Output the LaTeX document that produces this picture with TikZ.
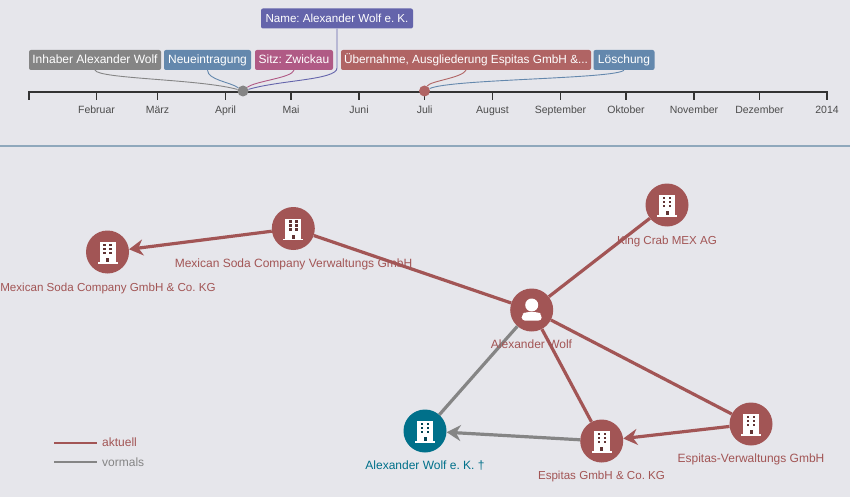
\documentclass[tikz,border=0pt]{standalone}
\usepackage{fontspec}
\setmainfont{Liberation Sans}
\usepackage{xcolor}
\usetikzlibrary{arrows.meta}
\frenchspacing
\definecolor{bg}{HTML}{E6E6EB}
\definecolor{red}{HTML}{A25555}
\definecolor{grey}{HTML}{858585}
\definecolor{teal}{HTML}{00708A}
\definecolor{blue}{HTML}{6488AD}
\definecolor{purple}{HTML}{6464AB}
\definecolor{pink}{HTML}{B05A85}
\definecolor{boxred}{HTML}{B06464}
\definecolor{sep}{HTML}{8FA8BC}
\tikzstyle{tag}=[rectangle,rounded corners=2pt,text=white,font=\fontsize{12}{14}\selectfont,inner sep=0pt,minimum height=20pt,text height=10pt,text depth=2pt]
\tikzstyle{link}=[line width=0.9pt]
\tikzstyle{tick}=[line width=1.1pt,black!80]
\tikzstyle{month}=[font=\fontsize{10.5}{12}\selectfont,text=black!70,text height=8.5pt,text depth=2pt]
\tikzstyle{ent}=[circle,fill=red,minimum size=43pt,inner sep=0pt]
\tikzstyle{lbl}=[font=\fontsize{12}{14}\selectfont,text=red,text height=10pt,text depth=2pt]
\tikzstyle{rel}=[line width=3.2pt,red]
\tikzstyle{old}=[line width=3.2pt,grey]
\tikzstyle{tip}=[-{Stealth[length=14pt,width=16pt]}]
\tikzstyle{bullet}=[circle,minimum size=11pt,inner sep=0pt]
\newcommand{\building}[3]{
  \fill[white] (#1-8,#2-10) rectangle (#1+8,#2+10);
  \fill[white] (#1-10,#2+10) rectangle (#1+10,#2+11.5);
  \foreach \dx in {-3,3}
    \foreach \dy in {-7,-3,1}
      \fill[#3!60!black] (#1+\dx-1.2,#2+\dy-1.2) rectangle (#1+\dx+1.2,#2+\dy+1.2);
  \fill[#3!60!black] (#1-1.5,#2+6) rectangle (#1+1.5,#2+10);
}
\begin{document}
\begin{tikzpicture}[x=1pt,y=-1pt]
  \fill[bg] (0,0) rectangle (850,497);
  \useasboundingbox (0,0) rectangle (850,497);
  % timeline
  \draw [tick] (29,100) -- (29,92) -- (827,92) -- (827,100);
  \foreach \x/\m in {96.5/Februar,157.5/März,225.5/April,291/Mai,359/Juni,424.7/Juli,492.5/August,560.5/September,626/Oktober,694/November,759.5/Dezember,827/2014}{
    \draw [tick] (\x,92) -- (\x,100);
    \node [month] at (\x,110.5) {\m};
  }
  \draw [line width=1.2pt,sep] (0,146) -- (850,146);
  \node (d1) [bullet,fill=grey] at (243,91) {};
  \node (d2) [bullet,fill=boxred] at (424.5,91) {};
  \node (t1) [tag,fill=grey,minimum width=132pt] at (95,60) {Inhaber Alexander Wolf};
  \node (t2) [tag,fill=blue,minimum width=87pt] at (207.5,60) {Neueintragung};
  \node (t3) [tag,fill=pink,minimum width=78pt] at (294,60) {Sitz: Zwickau};
  \node (t4) [tag,fill=boxred,minimum width=250pt,font=\fontsize{11.8}{14}\selectfont] at (466,60) {Übernahme, Ausgliederung Espitas GmbH \&...};
  \node (t5) [tag,fill=blue,minimum width=61pt] at (624,60) {Löschung};
  \node (t6) [tag,fill=purple,minimum width=152pt,font=\fontsize{11.6}{14}\selectfont] at (337,18.5) {Name: Alexander Wolf e. K.};
  \draw [link,grey] (t1.south) .. controls (99,79) and (200,79) .. (d1);
  \draw [link,blue] (t2.south) .. controls (208,80) and (230,82) .. (d1);
  \draw [link,pink] (t3.south) .. controls (292,78) and (255,81) .. (d1);
  \draw [link,purple] (t6.south) -- (337,68) .. controls (337,80) and (280,80) .. (d1);
  \draw [link,boxred] (t4.south) .. controls (462,78) and (430,81) .. (d2);
  \draw [link,blue] (t5.south) .. controls (615,79) and (450,79) .. (d2);
  % network
  \node (soda) [ent] at (107.5,252) {};
  \node (verw) [ent] at (293.3,228.5) {};
  \node (wolf) [ent] at (531.7,310) {};
  \node (king) [ent] at (667,205) {};
  \node (ek) [ent,fill=teal] at (425,431) {};
  \node (esp) [ent] at (601.7,441) {};
  \node (espv) [ent] at (751,424) {};
  \draw [rel,tip] (verw) -- (soda);
  \draw [rel] (verw) -- (wolf);
  \draw [rel] (king) -- (wolf);
  \draw [rel] (wolf) -- (esp);
  \draw [rel] (wolf) -- (espv);
  \draw [rel,tip] (espv) -- (esp);
  \draw [old] (wolf) -- (ek);
  \draw [old,tip] (esp) -- (ek);
  \building{107.5}{252}{red}
  \building{293.3}{228.5}{red}
  \building{667}{205}{red}
  \building{425}{431}{teal}
  \building{601.7}{441}{red}
  \building{751}{424}{red}
  % person icon
  \fill[white] (531.7,305) circle (6.5pt);
  \fill[white,rounded corners=3.5pt] (521.7,320.7) -- (521.7,314.5) -- (525.5,312) -- (538,312) -- (541.7,314.5) -- (541.7,320.7) -- cycle;
  \node [lbl,font=\fontsize{11.6}{14}\selectfont] at (108,287) {Mexican Soda Company GmbH \& Co. KG};
  \node [lbl] at (293.5,263) {Mexican Soda Company Verwaltungs GmbH};
  \node [lbl] at (531.5,344) {Alexander Wolf};
  \node [lbl,font=\fontsize{11.6}{14}\selectfont] at (667,240) {King Crab MEX AG};
  \node [lbl,text=teal] at (425,465) {Alexander Wolf e. K. †};
  \node [lbl,font=\fontsize{11.6}{14}\selectfont] at (601.5,475) {Espitas GmbH \& Co. KG};
  \node [lbl] at (751,458) {Espitas-Verwaltungs GmbH};
  % legend
  \coordinate (a1) at (54,443);
  \coordinate (a2) at (97,443);
  \coordinate (b1) at (54,462);
  \coordinate (b2) at (97,462);
  \draw [line width=2.5pt,red] (a1) -- (a2);
  \draw [line width=2.5pt,grey] (b1) -- (b2);
  \node [lbl,anchor=west,inner sep=0pt] at (102,442) {aktuell};
  \node [lbl,anchor=west,inner sep=0pt,text=grey] at (102,462) {vormals};
\end{tikzpicture}
\end{document}
